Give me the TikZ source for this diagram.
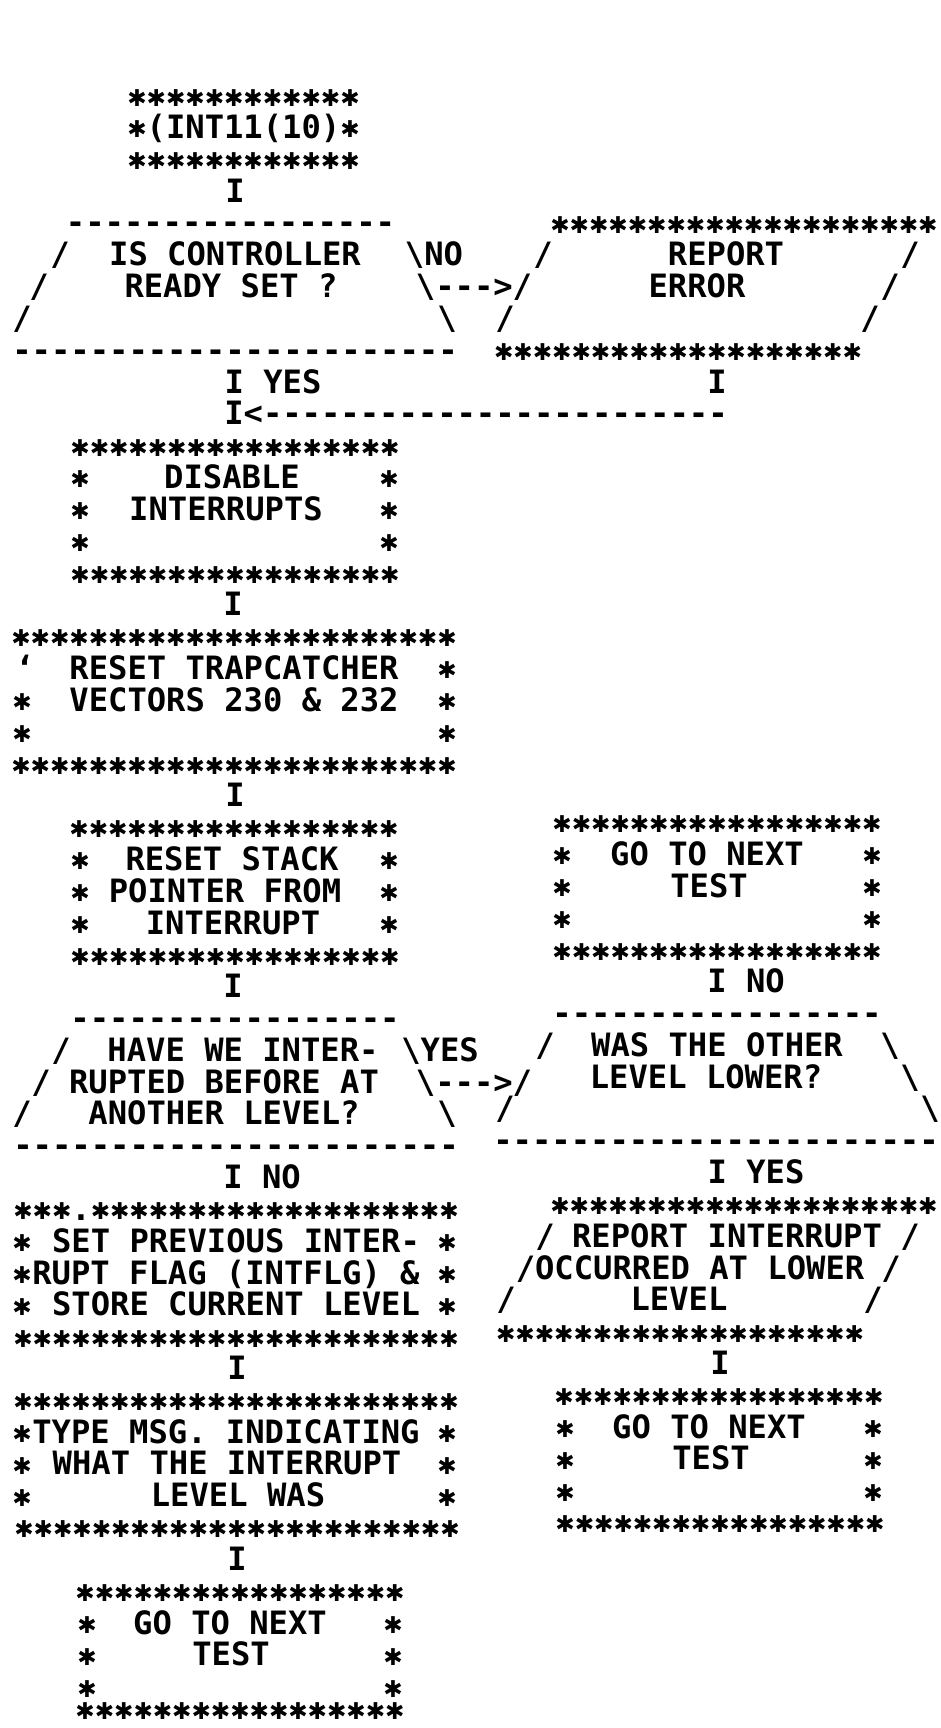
\documentclass[tikz,border=0pt]{standalone}
\usepackage{fontspec}
\usepackage{graphicx}
\newfontfamily\printfont{DejaVu Sans Mono}[WordSpace={1,0,0}]
\newfontfamily\symfont{DejaVu Sans}
% one printer asterisk, a heavy star kept in its character cell
\newcommand{\sr}{\makebox[0.602em][c]{\vphantom{I}\smash{\raisebox{0.02em}{\scalebox{0.72}{\symfont ✱}}}}}
\newcommand{\stars}[1]{\foreach \k in {1,...,#1}{\sr}}
\newcommand{\dashes}[1]{\foreach \k in {1,...,#1}{{-}}}
\newcommand{\bsl}{\textbackslash}

\begin{document}
\begin{tikzpicture}[
    x=0.5pt, y=-15.91pt,
    prt/.style={font=\printfont\bfseries\frenchspacing\fontsize{16.08pt}{16pt}\selectfont,
        inner sep=0pt, anchor=base, yshift=-5.85pt},
]
\useasboundingbox (0,-2.985) rectangle (940,51.32);

% ============================================================
%  Entry
% ============================================================
\node[prt] (starttop) at (243.5,0) {\stars{12}};
\node[prt] (start)    at (243.5,1) {\sr(INT11(10)\sr};
\node[prt] (startbot) at (243.5,2) {\stars{12}};
\node[prt] (c1) at (235,3) {I};

% ============================================================
%  Is controller ready set ?
% ============================================================
\node[prt] (q1top) at (230.5,4) {\dashes{17}};
\node[prt] (q1l5) at (60,5) {/};
\node[prt] (q1a)  at (235,5) {IS CONTROLLER};
\node[prt] (q1no) at (434,5) {\bsl NO};
\node[prt] (q1l6) at (39,6) {/};
\node[prt] (q1b)  at (231,6) {READY SET ?};
\node[prt] (arrno) at (474,6) {\bsl{}-{}-{}->/};
\node[prt] (q1l7) at (22,7) {/};
\node[prt] (q1r7) at (447,7) {\bsl};
\node[prt] (q1bot) at (235,8) {\dashes{23}};

% --- report error
\node[prt] (errtop) at (744,4) {\stars{20}};
\node[prt] (errl5) at (543,5) {/};
\node[prt] (err1)  at (726,5) {REPORT};
\node[prt] (errr5) at (910,5) {/};
\node[prt] (err2)  at (697,6) {ERROR};
\node[prt] (errr6) at (890,6) {/};
\node[prt] (errl7) at (505,7) {/};
\node[prt] (errr7) at (870,7) {/};
\node[prt] (errbot) at (678,8) {\stars{19}};
\node[prt] (c2) at (717,9) {I};

% --- yes branch and return line
\node[prt] (yes1) at (273,9) {I YES};
\node[prt] (join) at (476,10) {I<\dashes{24}};

% ============================================================
%  Disable interrupts
% ============================================================
\node[prt] (distop) at (235,11) {\stars{17}};
\node[prt] (dis1) at (232,12) {DISABLE};
\node[prt] (dis2) at (226,13) {INTERRUPTS};
\foreach \r in {12,13,14} {
    \node[prt] (disl\r) at (80,\r) {\sr};
    \node[prt] (disr\r) at (389,\r) {\sr};
}
\node[prt] (disbot) at (235,15) {\stars{17}};
\node[prt] (c3) at (233,16) {I};

% ============================================================
%  Reset trapcatcher
% ============================================================
\node[prt] (traptop) at (234,17) {\stars{23}};
\node[prt] (trapl18) at (25,18) {‘};
\node[prt] (trap1) at (234,18) {RESET TRAPCATCHER};
\node[prt] (trap2) at (234,19) {VECTORS 230 \& 232};
\foreach \r in {19,20} { \node[prt] (trapl\r) at (22,\r) {\sr}; }
\foreach \r in {18,19,20} { \node[prt] (trapr\r) at (447,\r) {\sr}; }
\node[prt] (trapbot) at (234,21) {\stars{23}};
\node[prt] (c4) at (235,22) {I};

% ============================================================
%  Reset stack pointer
% ============================================================
\node[prt] (stktop) at (234,23) {\stars{17}};
\node[prt] (stk1) at (232,24) {RESET STACK};
\node[prt] (stk2) at (225,25) {POINTER FROM};
\node[prt] (stk3) at (233,26) {INTERRUPT};
\foreach \r in {24,25,26} {
    \node[prt] (stkl\r) at (80,\r) {\sr};
    \node[prt] (stkr\r) at (389,\r) {\sr};
}
\node[prt] (stkbot) at (235,27) {\stars{17}};
\node[prt] (c5) at (233,28) {I};

% ============================================================
%  Have we interrupted before ?
% ============================================================
\node[prt] (q2top) at (235,29) {\dashes{17}};
\node[prt] (q2l30) at (61,30) {/};
\node[prt] (q2a)   at (243,30) {HAVE WE INTER-};
\node[prt] (q2yes) at (440,30) {\bsl YES};
\node[prt] (q2l31) at (41,31) {/};
\node[prt] (q2b)   at (224,31) {RUPTED BEFORE AT};
\node[prt] (arryes) at (474,31) {\bsl{}-{}-{}->/};
\node[prt] (q2l32) at (22,32) {/};
\node[prt] (q2c)   at (224,32) {ANOTHER LEVEL?};
\node[prt] (q2r32) at (447,32) {\bsl};
\node[prt] (q2bot) at (236,33) {\dashes{23}};
\node[prt] (no2) at (262,34) {I NO};

% ============================================================
%  Set previous interrupt flag
% ============================================================
\node[prt] (flagtop) at (236,35) {\stars{3}.\stars{19}};
\node[prt] (flag1) at (236,36) {SET PREVIOUS INTER-};
\node[prt] (flag2) at (226,37) {RUPT FLAG (INTFLG) \&};
\node[prt] (flag3) at (236,38) {STORE CURRENT LEVEL};
\foreach \r in {36,37,38} {
    \node[prt] (flagl\r) at (22,\r) {\sr};
    \node[prt] (flagr\r) at (447,\r) {\sr};
}
\node[prt] (flagbot) at (236,39) {\stars{23}};
\node[prt] (c6) at (237,40) {I};

% ============================================================
%  Type message
% ============================================================
\node[prt] (msgtop) at (236,41) {\stars{23}};
\node[prt] (msg1) at (226,42) {TYPE MSG. INDICATING};
\node[prt] (msg2) at (227,43) {WHAT THE INTERRUPT};
\node[prt] (msg3) at (238,44) {LEVEL WAS};
\foreach \r in {42,43,44} {
    \node[prt] (msgl\r) at (22,\r) {\sr};
    \node[prt] (msgr\r) at (447,\r) {\sr};
}
\node[prt] (msgbot) at (237,45) {\stars{23}};
\node[prt] (c7) at (237,46) {I};

% --- go to next test (left)
\node[prt] (nxtatop) at (240,47) {\stars{17}};
\node[prt] (nxta1) at (230,48) {GO TO NEXT};
\node[prt] (nxta2) at (231,49) {TEST};
\foreach \r in {48,49,50} {
    \node[prt] (nxtal\r) at (87,\r) {\sr};
    \node[prt] (nxtar\r) at (393,\r) {\sr};
}
\node[prt] (nxtabot) at (240,50.7) {\stars{17}};

% ============================================================
%  Right column
% ============================================================
\begin{scope}[yshift=2.5pt]
% --- go to next test (top right)
\node[prt] (nxtbtop) at (717,23) {\stars{17}};
\node[prt] (nxtb1) at (707,24) {GO TO NEXT};
\node[prt] (nxtb2) at (709,25) {TEST};
\foreach \r in {24,25,26} {
    \node[prt] (nxtbl\r) at (562,\r) {\sr};
    \node[prt] (nxtbr\r) at (872,\r) {\sr};
}
\node[prt] (nxtbbot) at (717,27) {\stars{17}};
\node[prt] (no3) at (746,28) {I NO};

% --- was the other level lower ?
\node[prt] (q3top) at (717,29) {\dashes{17}};
\node[prt] (q3l30) at (545,30) {/};
\node[prt] (q3a)   at (717,30) {WAS THE OTHER};
\node[prt] (q3r30) at (890,30) {\bsl};
\node[prt] (q3b)   at (706,31) {LEVEL LOWER?};
\node[prt] (q3r31) at (910,31) {\bsl};
\node[prt] (q3l32) at (505,32) {/};
\node[prt] (q3r32) at (930,32) {\bsl};
\node[prt] (q3bot) at (716,33) {\dashes{23}};
\node[prt] (yes3) at (756,34) {I YES};

% --- report interrupt at lower level
\node[prt] (reptop) at (744,35) {\stars{20}};
\node[prt] (repl36) at (545,36) {/};
\node[prt] (rep1)   at (727,36) {REPORT INTERRUPT};
\node[prt] (repr36) at (910,36) {/};
\node[prt] (rep2)   at (690,37) {/OCCURRED AT LOWER};
\node[prt] (repr37) at (891,37) {/};
\node[prt] (repl38) at (506,38) {/};
\node[prt] (rep3)   at (679,38) {LEVEL};
\node[prt] (repr38) at (873,38) {/};
\node[prt] (repbot) at (680,39) {\stars{19}};
\node[prt] (c8) at (720,40) {I};

% --- go to next test (bottom right)
\node[prt] (nxtctop) at (719,41) {\stars{17}};
\node[prt] (nxtc1) at (709,42) {GO TO NEXT};
\node[prt] (nxtc2) at (711,43) {TEST};
\foreach \r in {42,43,44} {
    \node[prt] (nxtcl\r) at (565,\r) {\sr};
    \node[prt] (nxtcr\r) at (873,\r) {\sr};
}
\node[prt] (nxtcbot) at (720,45) {\stars{17}};
\end{scope}

\end{tikzpicture}
\end{document}
